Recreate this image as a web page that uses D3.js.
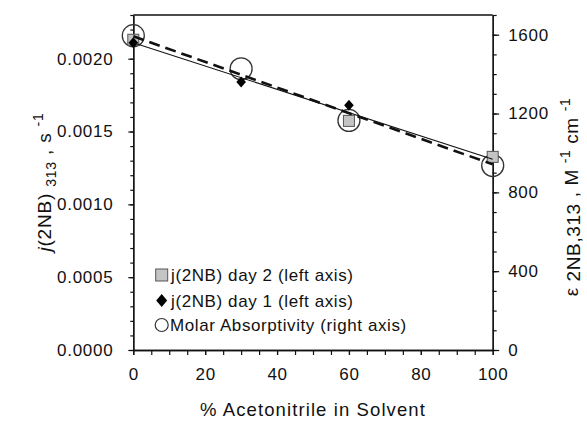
<!DOCTYPE html>
<html><head><meta charset="utf-8">
<script src="https://cdn.jsdelivr.net/npm/d3@7"></script>
<style>
body{margin:0;background:#fff;}
svg text{font-family:"Liberation Sans",Arial,Helvetica,sans-serif;fill:#111;}
</style></head>
<body><svg id="c" width="587" height="422"></svg>
<script>
// ---- data ----
const xDay2 = [0, 60, 100];
const jDay2 = [0.00213, 0.001573, 0.001326];
const xDay1 = [0, 30, 60];
const jDay1 = [0.00211, 0.00184, 0.00168];
const xMolar = [0, 30, 60, 100];
const molar = [1595, 1427, 1165, 936];
const fitJx = [0, 100];
const fitJ = [0.00211, 0.00131];
const fitMx = [0, 100];
const fitM = [1592, 942];
const xTicks = [0, 20, 40, 60, 80, 100];
const leftTicks = [0, 0.0005, 0.0010, 0.0015, 0.0020];
const rightTicks = [0, 400, 800, 1200, 1600];
const legendLabels = ["j(2NB) day 2 (left axis)", "j(2NB) day 1 (left axis)", "Molar Absorptivity (right axis)"];

const svg = d3.select("#c");
const L = 133.3, R = 492.7, T = 15, B = 350;
const x = d3.scaleLinear().domain([0, 100]).range([L, R]);
const yL = d3.scaleLinear().domain([0, 0.0023]).range([B, T]);
const yR = d3.scaleLinear().domain([0, 1700]).range([B, T]);

const fs = "17px", ls = "0.7px";
// frame top
svg.append("line").attr("x1", L).attr("x2", R).attr("y1", T).attr("y2", T).attr("stroke", "#111").attr("stroke-width", 1.3);

function styleAxis(g){
  g.selectAll("path").attr("stroke", "#111").attr("stroke-width", 1.3);
  g.selectAll("line").attr("stroke", "#111").attr("stroke-width", 1.2);
  g.selectAll("text").attr("font-size", fs).style("letter-spacing", ls).attr("fill", "#111");
}
// x axis
svg.append("g").attr("transform", `translate(0,${B})`)
  .call(d3.axisBottom(x).tickValues(d3.range(0, 101, 5)).tickSize(5).tickFormat("").tickSizeOuter(0))
  .call(styleAxis);
svg.append("g").attr("transform", `translate(0,${B})`)
  .call(d3.axisBottom(x).tickValues(xTicks).tickSize(5).tickPadding(13).tickFormat(d3.format("d")).tickSizeOuter(0))
  .call(styleAxis);
// left axis
svg.append("g").attr("transform", `translate(${L},0)`)
  .call(d3.axisLeft(yL).tickValues(d3.range(0, 24).map(i => i * 0.0001)).tickSize(3).tickFormat("").tickSizeOuter(0))
  .call(styleAxis);
svg.append("g").attr("transform", `translate(${L},0)`)
  .call(d3.axisLeft(yL).tickValues(leftTicks).tickSize(5).tickPadding(15).tickFormat(d3.format(".4f")).tickSizeOuter(0))
  .call(styleAxis);
// right axis
svg.append("g").attr("transform", `translate(${R},0)`)
  .call(d3.axisRight(yR).tickValues(d3.range(0, 1701, 100)).tickSize(4).tickFormat("").tickSizeOuter(0))
  .call(styleAxis);
svg.append("g").attr("transform", `translate(${R},0)`)
  .call(d3.axisRight(yR).tickValues(rightTicks).tickSize(6.5).tickPadding(9).tickFormat(d3.format("d")).tickSizeOuter(0))
  .call(styleAxis);

// markers
const gM = svg.append("g");
gM.selectAll("circle.m").data(xMolar).join("circle")
  .attr("cx", d => x(d)).attr("cy", (d, i) => yR(molar[i])).attr("r", 11)
  .attr("fill", "none").attr("stroke", "#333").attr("stroke-width", 1.3);
gM.selectAll("rect.s").data(xDay2).join("rect")
  .attr("x", d => x(d) - 5.5).attr("y", (d, i) => yL(jDay2[i]) - 5.5).attr("width", 11).attr("height", 11)
  .attr("fill", "#c4c4c4").attr("stroke", "#555").attr("stroke-width", 1);
gM.selectAll("path.d").data(xDay1).join("path")
  .attr("transform", (d, i) => `translate(${x(d)},${yL(jDay1[i])})`)
  .attr("d", "M0,-5.5L4.8,0L0,5.5L-4.8,0Z").attr("fill", "#000");

// fit lines
const lineJ = d3.line().x(d => x(d[0])).y(d => yL(d[1]));
const lineM = d3.line().x(d => x(d[0])).y(d => yR(d[1]));
svg.append("path").attr("d", lineJ(fitJx.map((v, i) => [v, fitJ[i]])))
  .attr("fill", "none").attr("stroke", "#111").attr("stroke-width", 1.1);
svg.append("path").attr("d", lineM(fitMx.map((v, i) => [v, fitM[i]])))
  .attr("fill", "none").attr("stroke", "#111").attr("stroke-width", 2.6).attr("stroke-dasharray", "11,6");

// legend
const lg = svg.append("g");
const lx = 161.7, ly = [275, 300.5, 325];
lg.append("rect").attr("x", lx - 6).attr("y", ly[0] - 6).attr("width", 12).attr("height", 12)
  .attr("fill", "#c4c4c4").attr("stroke", "#555");
lg.append("path").attr("transform", `translate(${lx},${ly[1]})`).attr("d", "M0,-6.5L5.5,0L0,6.5L-5.5,0Z").attr("fill", "#000");
lg.append("circle").attr("cx", lx).attr("cy", ly[2]).attr("r", 6.5).attr("fill", "none").attr("stroke", "#333").attr("stroke-width", 1.2);
lg.selectAll("text").data(legendLabels).join("text")
  .attr("x", (d, i) => i === 2 ? 170 : 171).attr("y", (d, i) => ly[i]).attr("dy", "0.36em")
  .attr("font-size", fs).style("letter-spacing", "0.6px").text(d => d);

// x title
svg.append("text").attr("x", (L + R) / 2).attr("y", 416).attr("text-anchor", "middle")
  .attr("font-size", "18.5px").style("letter-spacing", "1.1px").text("% Acetonitrile in Solvent");

// left y title
const tl = svg.append("text").attr("transform", "translate(51,182) rotate(-90)").attr("text-anchor", "middle")
  .attr("font-size", "19px").style("letter-spacing", "0.8px");
tl.append("tspan").attr("font-style", "italic").text("j");
tl.append("tspan").text("(2NB) ");
tl.append("tspan").attr("font-size", "14px").attr("dy", 5).text("313");
tl.append("tspan").attr("dy", -5).text(" , s ");
tl.append("tspan").attr("font-size", "14px").attr("dy", -8).text("-1");

// right y title
const tr = svg.append("text").attr("transform", "translate(578,197) rotate(-90)").attr("text-anchor", "middle")
  .attr("font-size", "19px").style("letter-spacing", "0.6px");
tr.append("tspan").text("ε ");
tr.append("tspan").attr("dy", 2).text("2NB,313");
tr.append("tspan").attr("dy", -2).text(" , M ");
tr.append("tspan").attr("font-size", "14px").attr("dy", -8).text("-1");
tr.append("tspan").attr("dy", 8).text(" cm ");
tr.append("tspan").attr("font-size", "14px").attr("dy", -8).text("-1");
</script></body></html>
